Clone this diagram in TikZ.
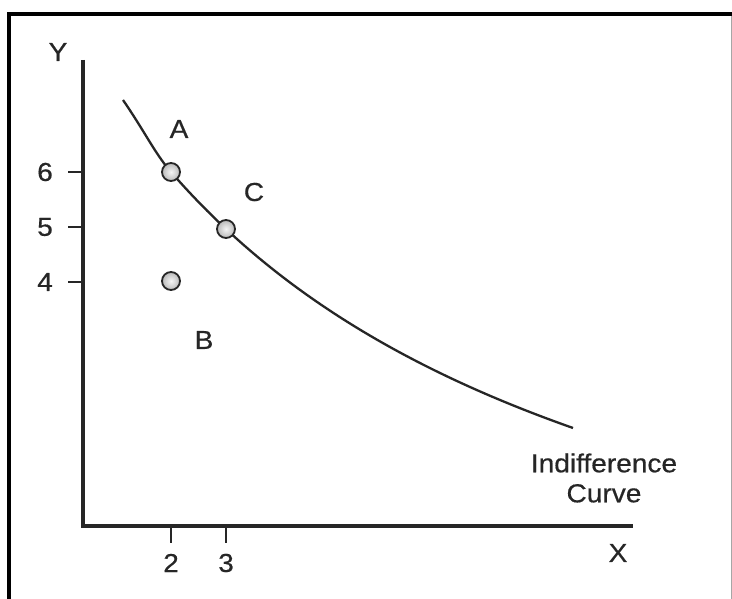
\documentclass[tikz,border=0pt]{standalone}
\usepackage{fontspec}
\setmainfont{Liberation Sans}[FakeStretch=1.08, FakeBold=0.5]
\begin{document}
\begin{tikzpicture}[x=1pt,y=-1pt,
  lbl/.style={font=\fontsize{26}{30}\selectfont, inner sep=0pt, text=black!85},
  axis/.style={line width=3.6pt, black!85},
  tick/.style={line width=2.4pt, black!85},
  pt/.style={circle, draw=black!85, line width=1.8pt, minimum size=18pt, inner sep=0pt, inner color=gray!8, outer color=gray!55},
  curve/.style={line width=2.3pt, black!85}]
\useasboundingbox (0,0) rectangle (732,599);
\fill[white] (0,0) rectangle (732,599);
% frame
\draw[line width=4pt, black] (9,599) -- (9,14) -- (732,14);
\draw[line width=1pt, gray!70] (731,16) -- (731,599);
% axes
\coordinate (O) at (83,526);
\coordinate (Ytop) at (83,60);
\coordinate (Xend) at (633,526);
\draw[axis] (Ytop) -- (O) -- (Xend);
% ticks
\coordinate (t6a) at (68,172); \coordinate (t6b) at (83,172);
\coordinate (t5a) at (68,227); \coordinate (t5b) at (83,227);
\coordinate (t4a) at (68,282); \coordinate (t4b) at (83,282);
\coordinate (t2a) at (171,526); \coordinate (t2b) at (171,543);
\coordinate (t3a) at (226,526); \coordinate (t3b) at (226,543);
\draw[tick] (t6a) -- (t6b) (t5a) -- (t5b) (t4a) -- (t4b) (t2a) -- (t2b) (t3a) -- (t3b);
% labels
\node[lbl] (ly) at (58,52) {Y};
\node[lbl] (lx) at (618,553) {X};
\node[lbl] (l6) at (45,172) {6};
\node[lbl] (l5) at (45,227) {5};
\node[lbl] (l4) at (45,282) {4};
\node[lbl] (l2) at (171,563) {2};
\node[lbl] (l3) at (226,563) {3};
% curve
\coordinate (cs) at (123,100);
\coordinate (pA) at (171,172);
\coordinate (pC) at (226,229);
\draw[curve] (cs) .. controls (145,132) and (155,153.6) .. (pA);
\draw[curve, domain=171:573, samples=90] plot (\x, {745.1 - 2854.08/((\x+327)/100)});
% points
\node[pt] (A) at (pA) {};
\node[pt] (C) at (pC) {};
\node[pt] (B) at (171,281) {};
\node[lbl] (lA) at (179,129) {A};
\node[lbl] (lC) at (254,192) {C};
\node[lbl] (lB) at (204,340) {B};
\node[lbl, align=center] (lic) at (604,478) {Indifference\\Curve};
\end{tikzpicture}
\end{document}
